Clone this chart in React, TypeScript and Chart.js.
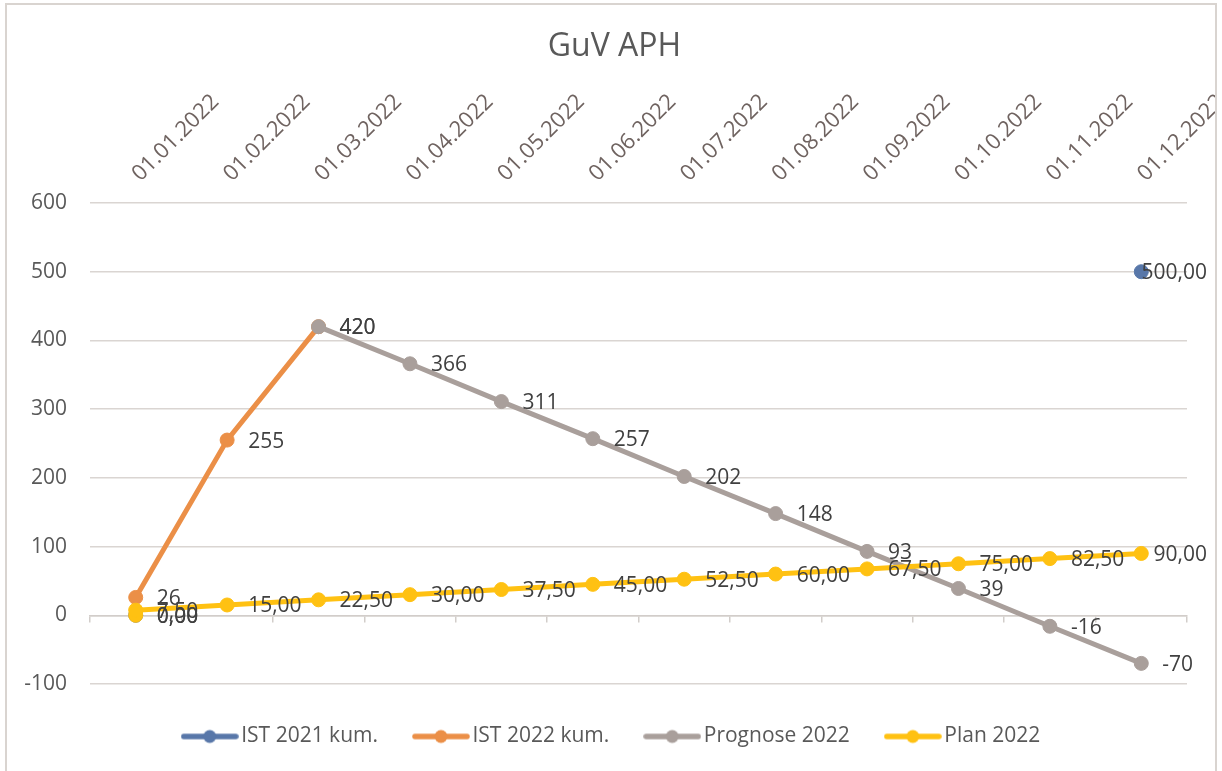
import React, { useEffect, useRef } from 'react';
import { Chart, registerables } from 'chart.js';

Chart.register(...registerables);

// ---------- data ----------
const categories = [
  '01.01.2022', '01.02.2022', '01.03.2022', '01.04.2022', '01.05.2022', '01.06.2022',
  '01.07.2022', '01.08.2022', '01.09.2022', '01.10.2022', '01.11.2022', '01.12.2022',
];
const ist2021Kum = [0, null, null, null, null, null, null, null, null, null, null, 500];
const ist2022Kum = [26, 255, 420, null, null, null, null, null, null, null, null, null];
const prognose2022 = [null, null, 420, 366, 311, 257, 202, 148, 93, 39, -16, -70];
const plan2022 = [7.5, 15, 22.5, 30, 37.5, 45, 52.5, 60, 67.5, 75, 82.5, 90];
const planStartPoint = [0, null, null, null, null, null, null, null, null, null, null, null];

const seriesNames = ['IST 2021 kum.', 'IST 2022 kum.', 'Prognose 2022', 'Plan 2022'];
const yMin = -100;
const yMax = 600;
const yStep = 100;
const chartTitle = 'GuV APH';

// ---------- style ----------
const FONT = '"Open Sans", "DejaVu Sans", sans-serif';
const COLORS = {
  blue: '#5877A9',
  orange: '#EB8F47',
  gray: '#A99F9B',
  yellow: '#FFC112',
};
const GRID = '#DAD5D2';
const AXIS = '#D2CDCA';
const LABEL_SIZE = 21;
const PAD_LEFT = 7;
const TITLE_SIZE = 32;
const TITLE_PAD_TOP = 28;
const PLOT_TOP = 203;

const fmtDec = (v: number) => v.toFixed(2).replace('.', ',');
const fmtInt = (v: number) => String(Math.round(v));

function legendIcon(color: string) {
  const c = document.createElement('canvas');
  c.width = 58;
  c.height = 16;
  const g = c.getContext('2d')!;
  g.strokeStyle = color;
  g.lineWidth = 5.5;
  g.lineCap = 'round';
  g.beginPath();
  g.moveTo(3, 8);
  g.lineTo(55, 8);
  g.stroke();
  g.fillStyle = color;
  g.beginPath();
  g.arc(29, 8, 6.5, 0, Math.PI * 2);
  g.fill();
  return c;
}

const pointLabelPlugin = {
  id: 'pointLabels',
  afterDatasetsDraw(chart: any) {
    const ctx = chart.ctx;
    ctx.save();
    ctx.font = `${LABEL_SIZE}px ${FONT}`;
    ctx.fillStyle = '#404040';
    ctx.textAlign = 'left';
    ctx.textBaseline = 'alphabetic';
    const maxRight = chart.width - 15;
    const capHalf = (LABEL_SIZE * 0.714) / 2;
    chart.data.datasets.forEach((ds: any, di: number) => {
      const meta = chart.getDatasetMeta(di);
      if (meta.hidden) return;
      meta.data.forEach((pt: any, i: number) => {
        const v = ds.data[i];
        if (v === null || v === undefined) return;
        const text = ds.labelFormat === 'dec' ? fmtDec(v) : fmtInt(v);
        const w = ctx.measureText(text).width;
        let x = pt.x + 21;
        if (x + w > maxRight) x = maxRight - w;
        ctx.fillText(text, x, pt.y + capHalf);
      });
    });
    ctx.restore();
  },
};

const framePlugin = {
  id: 'frame',
  afterDraw(chart: any) {
    const ctx = chart.ctx;
    ctx.save();
    ctx.fillStyle = '#ffffff';
    ctx.fillRect(1217, 0, chart.width - 1217, chart.height);
    ctx.strokeStyle = '#D9D4D0';
    ctx.lineWidth = 2;
    ctx.strokeRect(6, 4, 1210, chart.height + 20);
    ctx.restore();
  },
};

export default function App() {
  const canvasRef = useRef<HTMLCanvasElement | null>(null);

  useEffect(() => {
    document.body.style.margin = '0';
    document.body.style.overflow = 'hidden';
    let chart: Chart | null = null;
    let cancelled = false;

    const build = () => {
      if (cancelled || !canvasRef.current) return;
      const icons: Record<string, HTMLCanvasElement> = {};
      const mk = (label: string, data: (number | null)[], color: string, order: number, labelFormat: string, extra: any = {}) => ({
        label,
        data,
        borderColor: color,
        backgroundColor: color,
        pointBackgroundColor: color,
        pointBorderColor: color,
        pointRadius: 7,
        pointBorderWidth: 1,
        pointHoverRadius: 7,
        borderWidth: 5,
        tension: 0,
        spanGaps: false,
        order,
        labelFormat,
        xAxisID: 'x',
        yAxisID: 'y',
        ...extra,
      });

      chart = new Chart(canvasRef.current, {
        type: 'line',
        data: {
          labels: categories,
          datasets: [
            mk(seriesNames[0], ist2021Kum, COLORS.blue, 4, 'dec'),
            mk(seriesNames[1], ist2022Kum, COLORS.orange, 3, 'int'),
            mk(seriesNames[2], prognose2022, COLORS.gray, 2, 'int'),
            mk(seriesNames[3], plan2022, COLORS.yellow, 1, 'dec'),
            mk('', planStartPoint, COLORS.yellow, 1.5, 'dec', { hideInLegend: true }),
          ] as any,
        },
        options: {
          responsive: false,
          animation: false,
          devicePixelRatio: 1,
          events: [],
          layout: { padding: { left: PAD_LEFT, right: 0, top: 0, bottom: 14 } },
          scales: {
            x: {
              type: 'category',
              position: 'top',
              offset: true,
              grid: { display: false },
              border: { display: false },
              ticks: {
                autoSkip: false,
                minRotation: 45,
                maxRotation: 45,
                padding: 8,
                labelOffset: 19,
                color: '#6F6360',
                font: { family: FONT, size: 22 },
              },
              afterFit: (s: any) => {
                s.height = PLOT_TOP - (TITLE_PAD_TOP + TITLE_SIZE * 1.2);
                s.paddingLeft = 0;
                s.paddingRight = 35;
              },
            },
            x2: {
              type: 'category',
              position: { y: 0 } as any,
              offset: true,
              grid: {
                display: true,
                drawOnChartArea: false,
                drawTicks: true,
                tickLength: 6,
                color: AXIS,
                lineWidth: 1.5,
                offset: true,
              },
              border: { display: true, color: AXIS, width: 1.5 },
              ticks: { display: false },
            },
            y: {
              type: 'linear',
              position: 'left',
              min: yMin,
              max: yMax,
              ticks: {
                stepSize: yStep,
                padding: 23,
                color: '#595959',
                font: { family: FONT, size: 21 },
              },
              grid: { color: GRID, lineWidth: 1.5, drawTicks: false },
              border: { display: false },
              afterFit: (s: any) => {
                s.width = 90 - PAD_LEFT;
              },
            },
          } as any,
          plugins: {
            title: {
              display: true,
              text: chartTitle,
              color: '#595959',
              font: { family: FONT, size: TITLE_SIZE, weight: 'normal' as any },
              padding: { top: TITLE_PAD_TOP, bottom: 0 },
            },
            tooltip: { enabled: false },
            legend: {
              display: true,
              position: 'bottom',
              labels: {
                usePointStyle: true,
                pointStyleWidth: 42,
                padding: 42,
                color: '#595959',
                font: { family: FONT, size: 21 },
                sort: (a: any, b: any) => a.datasetIndex - b.datasetIndex,
                filter: (item: any, data: any) => !data.datasets[item.datasetIndex].hideInLegend,
                generateLabels: (c: any) => {
                  const items = (Chart.defaults.plugins.legend.labels as any).generateLabels(c);
                  return items.map((it: any) => {
                    const ds = c.data.datasets[it.datasetIndex];
                    const col = ds.borderColor as string;
                    if (!icons[col]) icons[col] = legendIcon(col);
                    return { ...it, pointStyle: icons[col], fontColor: '#595959' };
                  });
                },
              },
            },
          },
        },
        plugins: [pointLabelPlugin, framePlugin],
      });
    };

    const fontsReady = (document as any).fonts
      ? Promise.all([
          (document as any).fonts.load(`20px ${FONT}`),
          (document as any).fonts.load(`32px ${FONT}`),
        ]).catch(() => null)
      : Promise.resolve(null);
    fontsReady.then(build);

    return () => {
      cancelled = true;
      if (chart) chart.destroy();
    };
  }, []);

  return (
    <div style={{ width: 1222, height: 771, position: 'relative' }}>
      <canvas ref={canvasRef} width={1222} height={771} style={{ display: 'block' }} />
    </div>
  );
}
